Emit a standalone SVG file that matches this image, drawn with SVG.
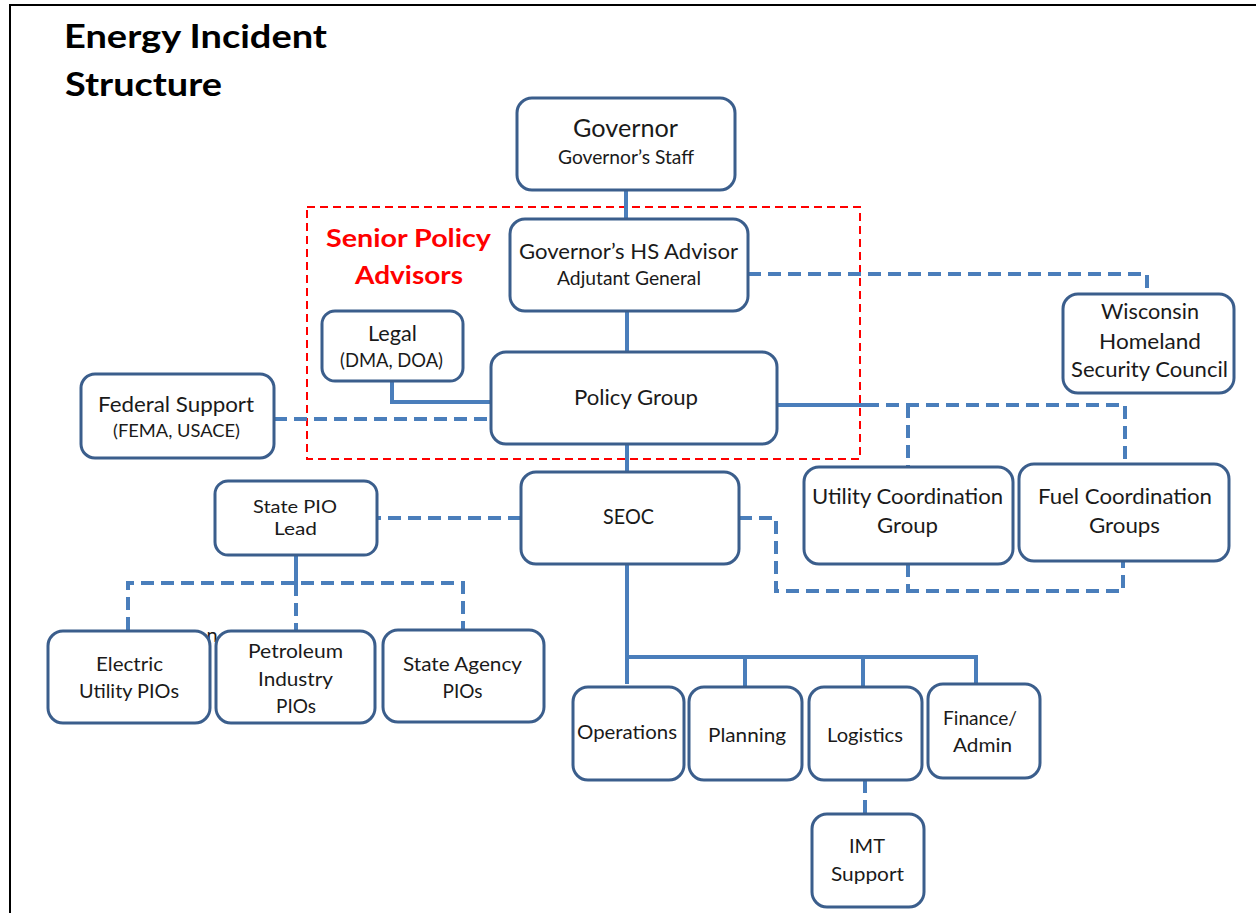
<svg xmlns="http://www.w3.org/2000/svg" width="1256" height="913" viewBox="0 0 1256 913">
  <style>
    .box { fill: #ffffff; stroke: #3B5E8C; stroke-width: 3; }
    .t { font-family: Lato, "Noto Sans", "Liberation Sans", sans-serif; fill: #1a1a1a; text-anchor: middle; }
    .title { font-family: Lato, "Noto Sans", "Liberation Sans", sans-serif; font-weight: bold; fill: #000000; }
    .red { font-family: Lato, "Noto Sans", "Liberation Sans", sans-serif; font-weight: bold; fill: #FF0000; text-anchor: middle; }
    .solid { fill: none; stroke: #4A7EBB; stroke-width: 4; }
    .dash { fill: none; stroke: #4A7EBB; stroke-width: 4; stroke-dasharray: 13 7; }
    .frame { fill: none; stroke: #000000; stroke-width: 2; }
  </style>

  <rect width="1256" height="913" fill="#ffffff"/>

  <!-- page frame -->
  <path class="frame" d="M10,913 V5 H1256"/>

  <!-- title -->
  <text class="title" x="64" y="48" font-size="33" textLength="263" lengthAdjust="spacingAndGlyphs">Energy Incident</text>
  <text class="title" x="65" y="96" font-size="33" textLength="157" lengthAdjust="spacingAndGlyphs">Structure</text>

  <!-- senior policy advisors zone -->
  <g id="senior-policy-advisors">
    <rect x="307" y="207" width="553" height="252" fill="none" stroke="#FF0000" stroke-width="2" stroke-dasharray="8 5"/>
    <text class="red" x="408.5" y="247" font-size="25" textLength="165" lengthAdjust="spacingAndGlyphs">Senior Policy</text>
    <text class="red" x="409" y="284" font-size="25" textLength="108" lengthAdjust="spacingAndGlyphs">Advisors</text>
  </g>

  <!-- stray text fragment behind the PIO boxes -->
  <text class="t" x="212" y="642" font-size="20">n</text>

  <!-- connectors -->
  <g id="connectors">
    <path class="solid" d="M626,190 V219"/>
    <path class="solid" d="M627,311 V352"/>
    <path class="solid" d="M392,381 V402 H491"/>
    <path class="solid" d="M627,444 V472"/>
    <path class="solid" d="M777,405 H866"/>
    <path class="solid" d="M627,564 V684"/>
    <path class="solid" d="M625,657 H978"/>
    <path class="solid" d="M745,657 V687"/>
    <path class="solid" d="M863,657 V687"/>
    <path class="solid" d="M976,657 V684"/>
    <path class="solid" d="M296,555 V583"/>

    <path class="dash" d="M274,419 H491"/>
    <path class="dash" d="M748,274 H1147 V294"/>
    <path class="dash" d="M866,405 H1125 V464"/>
    <path class="dash" d="M908,405 V467"/>
    <path class="dash" d="M521,518 H377"/>
    <path class="dash" d="M739,518 H776 V591 H1123 V561"/>
    <path class="dash" d="M908,564 V591"/>
    <path class="dash" d="M128,630 V583 H463 V630"/>
    <path class="dash" d="M296,583 V631"/>
    <path class="dash" d="M865,780 V814"/>
  </g>

  <!-- nodes -->
  <g id="governor">
    <rect class="box" x="517" y="98" width="218" height="92" rx="15"/>
    <text class="t" x="625.5" y="137" font-size="25" textLength="105" lengthAdjust="spacingAndGlyphs">Governor</text>
    <text class="t" x="626" y="164" font-size="19" textLength="136" lengthAdjust="spacingAndGlyphs">Governor’s Staff</text>
  </g>

  <g id="hs-advisor">
    <rect class="box" x="510" y="219" width="238" height="92" rx="15"/>
    <text class="t" x="628.5" y="259" font-size="22" textLength="219" lengthAdjust="spacingAndGlyphs">Governor’s HS Advisor</text>
    <text class="t" x="629" y="285" font-size="18.5" textLength="144" lengthAdjust="spacingAndGlyphs">Adjutant General</text>
  </g>

  <g id="legal">
    <rect class="box" x="322" y="311" width="141" height="70" rx="13"/>
    <text class="t" x="392.5" y="341" font-size="22" textLength="49" lengthAdjust="spacingAndGlyphs">Legal</text>
    <text class="t" x="391.5" y="367" font-size="18.5" textLength="103" lengthAdjust="spacingAndGlyphs">(DMA, DOA)</text>
  </g>

  <g id="policy-group">
    <rect class="box" x="491" y="352" width="286" height="92" rx="15"/>
    <text class="t" x="636" y="405" font-size="22" textLength="124" lengthAdjust="spacingAndGlyphs">Policy Group</text>
  </g>

  <g id="federal-support">
    <rect class="box" x="81" y="374" width="193" height="84" rx="14"/>
    <text class="t" x="176" y="412" font-size="21" textLength="156" lengthAdjust="spacingAndGlyphs">Federal Support</text>
    <text class="t" x="176.5" y="437" font-size="18" textLength="127" lengthAdjust="spacingAndGlyphs">(FEMA, USACE)</text>
  </g>

  <g id="wisconsin-hsc">
    <rect class="box" x="1063" y="294" width="171" height="99" rx="15"/>
    <text class="t" x="1150" y="319" font-size="22" textLength="98" lengthAdjust="spacingAndGlyphs">Wisconsin</text>
    <text class="t" x="1150" y="349" font-size="22" textLength="102" lengthAdjust="spacingAndGlyphs">Homeland</text>
    <text class="t" x="1149.5" y="377" font-size="22" textLength="157" lengthAdjust="spacingAndGlyphs">Security Council</text>
  </g>

  <g id="seoc">
    <rect class="box" x="521" y="472" width="218" height="92" rx="15"/>
    <text class="t" x="628.5" y="524" font-size="21" textLength="51" lengthAdjust="spacingAndGlyphs">SEOC</text>
  </g>

  <g id="utility-coordination">
    <rect class="box" x="804" y="467" width="209" height="97" rx="15"/>
    <text class="t" x="907.5" y="504" font-size="22" textLength="191" lengthAdjust="spacingAndGlyphs">Utility Coordination</text>
    <text class="t" x="907.5" y="533" font-size="22" textLength="61" lengthAdjust="spacingAndGlyphs">Group</text>
  </g>

  <g id="fuel-coordination">
    <rect class="box" x="1019" y="464" width="210" height="97" rx="15"/>
    <text class="t" x="1125" y="504" font-size="22" textLength="174" lengthAdjust="spacingAndGlyphs">Fuel Coordination</text>
    <text class="t" x="1124.5" y="533" font-size="22" textLength="71" lengthAdjust="spacingAndGlyphs">Groups</text>
  </g>

  <g id="state-pio-lead">
    <rect class="box" x="215" y="481" width="162" height="74" rx="13"/>
    <text class="t" x="295" y="513" font-size="18" textLength="84" lengthAdjust="spacingAndGlyphs">State PIO</text>
    <text class="t" x="295.5" y="535" font-size="18" textLength="43" lengthAdjust="spacingAndGlyphs">Lead</text>
  </g>

  <g id="electric-utility-pios">
    <rect class="box" x="48" y="631" width="162" height="92" rx="15"/>
    <text class="t" x="129.5" y="671" font-size="20" textLength="67" lengthAdjust="spacingAndGlyphs">Electric</text>
    <text class="t" x="129" y="698" font-size="20" textLength="100" lengthAdjust="spacingAndGlyphs">Utility PIOs</text>
  </g>

  <g id="petroleum-industry-pios">
    <rect class="box" x="216" y="631" width="159" height="92" rx="15"/>
    <text class="t" x="295.5" y="658" font-size="20" textLength="95" lengthAdjust="spacingAndGlyphs">Petroleum</text>
    <text class="t" x="295.5" y="686" font-size="20" textLength="75" lengthAdjust="spacingAndGlyphs">Industry</text>
    <text class="t" x="296" y="713" font-size="20" textLength="40" lengthAdjust="spacingAndGlyphs">PIOs</text>
  </g>

  <g id="state-agency-pios">
    <rect class="box" x="383" y="630" width="161" height="92" rx="15"/>
    <text class="t" x="462.5" y="671" font-size="20" textLength="119" lengthAdjust="spacingAndGlyphs">State Agency</text>
    <text class="t" x="462.5" y="698" font-size="20" textLength="40" lengthAdjust="spacingAndGlyphs">PIOs</text>
  </g>

  <g id="operations">
    <rect class="box" x="573" y="687" width="111" height="93" rx="15"/>
    <text class="t" x="627" y="739" font-size="20" textLength="100" lengthAdjust="spacingAndGlyphs">Operations</text>
  </g>

  <g id="planning">
    <rect class="box" x="689" y="687" width="113" height="93" rx="15"/>
    <text class="t" x="747" y="742" font-size="20" textLength="78" lengthAdjust="spacingAndGlyphs">Planning</text>
  </g>

  <g id="logistics">
    <rect class="box" x="809" y="687" width="113" height="93" rx="15"/>
    <text class="t" x="865" y="742" font-size="20" textLength="76" lengthAdjust="spacingAndGlyphs">Logistics</text>
  </g>

  <g id="finance-admin">
    <rect class="box" x="928" y="684" width="112" height="94" rx="15"/>
    <text class="t" x="980" y="725" font-size="20" textLength="74" lengthAdjust="spacingAndGlyphs">Finance/</text>
    <text class="t" x="982.5" y="752" font-size="20" textLength="59" lengthAdjust="spacingAndGlyphs">Admin</text>
  </g>

  <g id="imt-support">
    <rect class="box" x="812" y="814" width="112" height="93" rx="15"/>
    <text class="t" x="867" y="853" font-size="20" textLength="36" lengthAdjust="spacingAndGlyphs">IMT</text>
    <text class="t" x="867.5" y="881" font-size="20" textLength="73" lengthAdjust="spacingAndGlyphs">Support</text>
  </g>
</svg>
